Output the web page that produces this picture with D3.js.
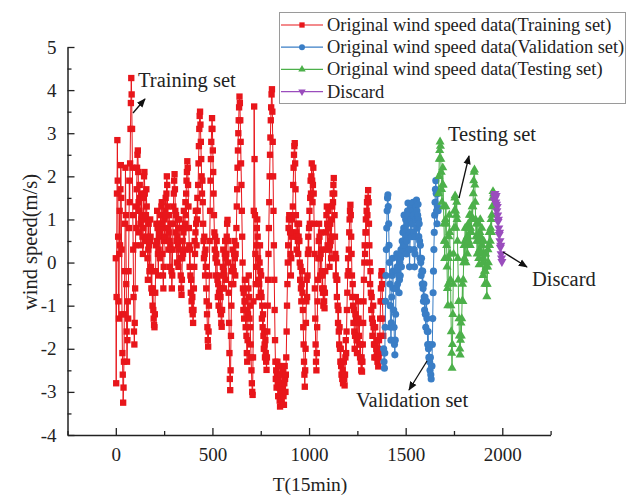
<!DOCTYPE html>
<html><head><meta charset="utf-8">
<script src="https://cdn.jsdelivr.net/npm/d3@7"></script>
<style>body{margin:0;background:#fff} svg{display:block}</style>
</head><body><svg id="chart" width="632" height="496"></svg>
<script>
// Wind speed (m/s), one sample every STEP intervals of 15 min
const STEP = 2;
const trainingStart = 0;
const trainingSpeed = [
  0.1, -2.8, -0.8, 1.6, 2.84, 1.9, 0.6, -0.9, -1.3, 0.2, 1.2, 0.4, 1.7, 2.26, 1.5, 0.3, -1.2, -2.1, -2.6, -3.25, -2.9, -2.3, -1.2, -0.2, 0.9,
  2.2, 1.1, -0.5, -1.6, -2.3, -1.8, -0.9, -1.3, -0.2, 0.8, 1.9, 1.4, 2.3, 3.1, 3.7, 4.28, 3.9, 3.1, 2.2, 1.1, 0.3, -0.8, -1.6, -1.9, -1.4,
  -0.6, 0.4, 1.3, 0.8, 1.7, 2.2, 2.5, 2.6, 2.1, 1.4, 0.7, 1.2, 1.8, 1.5, 0.9, 0.4, 1.0, 1.6, 1.1, 0.6, 0.2, 0.8, 1.5, 2.0, 2.1,
  1.6, 1.0, 0.5, 1.1, 1.7, 1.3, 0.6, 0.1, -0.4, 0.3, 0.9, 0.4, -0.2, 0.5, 1.0, 0.6, -0.1, -0.6, -0.2, -0.7, -1.0, -0.6, -1.1, -1.3, -1.45,
  -1.5, -1.2, -0.7, -0.2, 0.4, 0.9, 0.5, 1.2, 0.8, 0.2, -0.3, 0.3, 0.9, 0.6, 0.1, 0.7, 1.1, 0.8, 1.3, 1.4, 0.9, 0.2, -0.3, -0.6, -0.1,
  0.5, 1.0, 0.6, 1.2, 1.5, 1.1, 1.6, 2.0, 1.8, 1.3, 0.8, 0.3, 0.7, 1.1, 0.5, -0.1, 0.4, 0.9, 0.3, -0.2, -0.6, -0.3, 0.3, 0.9, 1.3,
  1.6, 1.9, 2.05, 1.7, 1.2, 0.7, 1.1, 0.5, 0.0, 0.6, 1.0, 0.4, -0.1, 0.3, 0.8, 1.0, 0.5, 0.1, -0.3, -0.6, -0.75, -0.4, 0.1, 0.5, 0.2,
  0.7, 1.2, 0.8, 0.3, 0.9, 1.4, 1.1, 1.6, 1.9, 2.1, 2.35, 2.2, 1.8, 1.3, 0.8, 0.4, -0.1, 0.3, -0.3, -0.7, -0.4, -0.9, -1.1, -0.8, -1.2,
  -1.4, -1.1, -0.6, -0.1, 0.5, 0.2, 0.7, 1.2, 0.9, 0.4, 1.0, 1.5, 1.2, 1.8, 2.3, 2.7, 3.1, 3.4, 3.5, 3.2, 2.8, 2.4, 2.0, 1.6, 1.9,
  1.4, 0.9, 0.5, 0.1, 0.6, 0.2, -0.3, 0.3, -0.1, -0.6, -0.9, -1.2, -1.5, -1.8, -1.95, -1.6, -1.0, -0.3, 0.5, 1.2, 1.9, 2.4, 2.8, 3.1, 3.35,
  3.1, 2.6, 2.1, 1.6, 1.1, 0.7, 0.3, 0.6, 0.1, -0.3, 0.2, 0.5, 0.0, -0.4, -0.8, -0.5, -1.0, -0.7, -0.3, -0.6, -1.1, -0.8, -1.2, -1.4, -1.49,
  -1.1, -0.6, -0.1, 0.3, -0.2, -0.6, -0.3, 0.2, 0.5, 0.1, -0.4, 0.2, 0.6, 0.9, 0.99, 0.5, 0.0, -0.7, -1.4, -2.1, -2.7, -2.96, -2.5, -1.7, -1.0,
  -0.5, -0.2, 0.3, -0.1, -0.5, -0.2, 0.2, 0.5, 0.1, -0.3, 0.2, 0.4, 0.8, 1.3, 1.7, 2.2, 2.6, 3.0, 3.3, 3.6, 3.85, 3.7, 3.3, 2.8, 2.3,
  1.8, 1.2, 0.6, 0.0, -0.6, -1.1, -0.7, -1.3, -0.9, -0.4, -0.9, -1.5, -1.1, -1.7, -2.1, -2.3, -1.8, -1.2, -0.6, -0.3, -0.8, -1.3, -1.0, -1.5, -1.9,
  -2.2, -2.5, -2.8, -3.0, -3.07, -2.2, -0.9, 1.2, 3.62, 2.4, 1.1, 0.2, -0.5, -0.1, 0.4, 0.8, 1.0, 0.6, 0.1, -0.4, -0.8, -0.5, 0.0, 0.4, -0.2,
  -0.7, -0.3, -0.8, -1.3, -1.0, -1.5, -1.2, -1.7, -2.0, -1.6, -1.9, -2.2, -1.8, -2.1, -2.3, -2.49, -2.2, -1.6, -1.0, -0.4, 0.2, 0.8, 1.4, 2.0, 2.5,
  2.9, 3.3, 3.6, 3.9, 4.02, 3.5, 2.8, 2.0, 1.2, 0.4, -0.4, -1.1, -1.8, -2.3, -2.7, -2.5, -2.9, -2.6, -2.3, -2.8, -3.1, -2.7, -2.4, -2.9, -3.2,
  -3.34, -3.0, -2.6, -2.9, -3.2, -3.3, -2.9, -2.5, -2.8, -3.1, -3.3, -2.8, -2.4, -2.7, -3.0, -2.6, -2.2, -1.6, -1.0, -0.5, 0.0, 0.4, 0.8, 1.0, 1.1,
  1.1, 0.7, 0.2, -0.3, 0.1, 0.6, 1.0, 0.7, 1.3, 1.8, 2.2, 2.5, 2.7, 2.77, 2.3, 1.7, 1.1, 0.7, 0.3, 0.6, 0.9, 0.5, 0.2, 0.6, 0.9,
  0.5, 0.0, -0.4, -0.1, -0.6, -0.9, -0.5, -0.2, -0.7, -1.1, -1.5, -1.9, -2.3, -2.6, -2.88, -2.5, -2.0, -1.4, -0.9, -0.4, -0.8, -0.3, 0.2, 0.6, 0.3,
  0.8, 1.2, 0.9, 1.5, 1.9, 1.6, 2.0, 2.3, 1.9, 1.4, 1.8, 2.2, 1.6, 0.9, 0.2, -0.6, -1.3, -1.9, -2.3, -2.5, -2.1, -1.5, -0.9, -0.4, 0.1,
  0.5, 0.9, 0.6, 0.1, -0.3, 0.2, 0.7, 0.3, -0.2, -0.6, -0.3, -0.7, -1.0, -0.6, -0.9, -1.06, -0.7, -0.2, 0.3, 0.7, 1.1, 1.3, 0.9, 0.4, 0.8,
  1.2, 0.8, 0.3, -0.1, 0.4, 0.9, 0.5, 0.1, 0.6, 1.0, 1.3, 1.6, 1.4, 1.8, 1.96, 1.6, 1.1, 0.6, 0.2, -0.3, 0.1, -0.4, -0.8, -0.4, -1.0,
  -1.4, -1.1, -1.6, -1.9, -1.5, -2.0, -2.3, -2.0, -2.4, -2.6, -2.3, -2.7, -2.5, -2.8, -2.6, -2.3, -2.7, -2.85, -2.6, -2.2, -1.8, -2.1, -1.6, -1.1, -0.7,
  -0.3, 0.1, -0.2, 0.3, 0.7, 1.0, 1.2, 1.34, 1.1, 0.6, 0.2, -0.3, -0.8, -0.5, -1.0, -1.4, -1.1, -1.6, -2.0, -1.7, -1.2, -0.8, -1.3, -1.8, -2.1,
  -1.8, -1.4, -0.9, -1.3, -1.7, -1.4, -1.9, -2.2, -1.9, -2.3, -2.5, -2.2, -2.53, -2.3, -1.9, -1.4, -0.9, -0.4, 0.0, 0.4, 0.2, 0.7, 1.0, 0.7, 1.2,
  1.4, 1.1, 1.5, 1.68, 1.4, 0.9, 0.4, 0.0, -0.5, -0.2, -0.7, -1.1, -0.8, -1.3, -1.7, -1.4, -1.0, -1.5, -1.9, -2.2, -1.9, -1.5, -1.9, -2.2, -2.0,
  -1.8, -2.1, -2.3, -2.0, -2.41, -2.2, -1.8, -2.1, -1.7, -1.3, -0.9, -0.6, -0.3, -0.2, -0.5, -0.9, -1.3, -1.7
];
const validationStart = 1386;
const validationSpeed = [
  -2.0, -2.3, -2.45, -2.1, -1.5, -0.9, -0.3, 0.3, 0.8, 1.2, 1.5, 1.57, 1.3, 0.9, 0.4, 0.0, -0.5, -1.0, -1.5, -1.8, -1.4, -0.8, -0.3, 0.1, -0.2,
  -0.6, -1.1, -1.5, -1.9, -2.14, -1.8, -1.2, -0.6, -0.2, 0.2, -0.1, -0.5, -0.2, 0.1, -0.3, -0.7, -0.4, 0.0, -0.3, 0.1, 0.3, -0.1, 0.2, 0.5, 0.3,
  0.7, 0.4, 0.8, 1.1, 0.8, 0.4, 0.7, 1.0, 0.6, 0.2, 0.5, 0.9, 1.2, 1.38, 1.1, 0.7, 0.3, -0.1, 0.3, 0.7, 1.0, 1.3, 1.0, 0.6, 0.9,
  1.2, 1.4, 1.1, 0.7, 0.3, -0.1, 0.2, 0.6, 1.0, 1.3, 1.45, 1.2, 0.8, 1.1, 1.35, 1.0, 0.6, 0.9, 0.5, 0.1, 0.4, 0.0, -0.3, 0.1, -0.2,
  -0.5, -0.2, -0.6, -0.9, -0.5, -0.8, -1.1, -0.8, -1.2, -1.5, -1.2, -0.9, -1.3, -1.6, -1.9, -1.6, -2.0, -2.2, -1.9, -2.3, -2.5, -2.2, -2.6, -2.7, -2.4,
  -2.4, -1.9, -1.3, -0.7, -0.2, 0.3, 0.7, 1.1, 1.4, 1.7, 1.9, 1.6, 1.2, 0.9, 1.3, 1.6, 1.2
];
const testingStart = 1670;
const testingSpeed = [
  1.6, 2.0, 2.4, 2.6, 2.8, 2.7, 2.4, 2.1, 1.7, 1.4, 1.8, 2.2, 1.8, 1.3, 0.9, 0.5, 0.1, 0.5, 1.0, 1.3, 0.9, 0.4, -0.1, -0.6, -1.0,
  -0.5, 0.1, 0.6, 1.1, 0.7, 0.2, -0.4, -1.0, -1.6, -2.1, -2.45, -1.9, -1.2, -0.5, 0.2, 0.8, 1.2, 1.5, 1.55, 1.2, 0.8, 1.1, 1.4, 1.0, 0.5,
  0.1, -0.4, -0.9, -1.3, -1.7, -2.0, -2.14, -1.8, -1.4, -1.7, -1.3, -0.9, -0.5, -0.9, -0.4, 0.0, 0.4, 0.1, 0.5, 0.8, 0.4, 0.0, 0.4, 0.8, 0.6,
  0.2, 0.6, 0.9, 0.5, 0.8, 1.1, 0.8, 0.4, 0.8, 1.1, 0.7, 1.0, 1.3, 1.0, 1.3, 1.6, 1.9, 2.1, 2.15, 1.8, 1.4, 1.0, 0.6, 0.9, 0.5,
  0.2, 0.6, 0.9, 0.5, 0.1, -0.05, 0.3, 0.7, 1.0, 0.6, 0.2, 0.5, 0.8, 0.4, 0.0, -0.3, 0.1, 0.5, 0.2, -0.2, -0.5, -0.2, 0.2, -0.1, -0.5,
  -0.79, -0.5, -0.1, 0.3, 0.0, 0.4, 0.7, 0.4, 0.7, 0.5, 0.8, 1.0, 0.7, 1.1, 1.3, 1.5, 1.65, 1.5, 1.6
];
const discardStart = 1958;
const discardSpeed = [
  1.45, 1.55, 1.6, 1.5, 1.4, 1.55, 1.35, 1.2, 1.3, 1.1, 0.95, 1.0, 0.8, 0.65, 0.7, 0.5, 0.35, 0.4, 0.2, 0.1, 0.02
];

const xTicks = [0, 500, 1000, 1500, 2000];
const yTicks = [-4, -3, -2, -1, 0, 1, 2, 3, 4, 5];
const legendLabels = [
  "Original wind speed data(Training set)",
  "Original wind speed data(Validation set)",
  "Original wind speed data(Testing set)",
  "Discard"
];

const FONT = "'Liberation Serif', 'Times New Roman', serif";
const INK = "#222";
const svg = d3.select("#chart");

const x = d3.scaleLinear().domain([-250, 2250]).range([67.5, 550.6]);
const y = d3.scaleLinear().domain([-4, 5]).range([435, 47]);

const toPoints = (start, vals) => vals.map((v, i) => ({t: start + i * STEP, v}));

const series = [
  {name: legendLabels[0], color: "#e8161b", symbol: d3.symbolSquare, size: 40, rotate: 0, data: toPoints(trainingStart, trainingSpeed)},
  {name: legendLabels[1], color: "#3a7ec6", symbol: d3.symbolCircle, size: 40, rotate: 0, data: toPoints(validationStart, validationSpeed)},
  {name: legendLabels[2], color: "#4cb04a", symbol: d3.symbolTriangle, size: 36, rotate: 0, data: toPoints(testingStart, testingSpeed)},
  {name: legendLabels[3], color: "#9a4dbd", symbol: d3.symbolTriangle, size: 36, rotate: 180, data: toPoints(discardStart, discardSpeed)}
];

// Axes: ticks point inward, minor ticks halfway between labels
const xMinor = d3.range(-250, 2251, 250).filter(v => !xTicks.includes(v));
const yMinor = d3.range(-4, 5.01, 0.5).filter(v => !yTicks.includes(v));
const plain = d => String(d);

const gx = svg.append("g").attr("transform", `translate(0,${y(-4)})`);
gx.call(d3.axisBottom(x).tickValues(xTicks).tickFormat(plain).tickSizeInner(-7).tickSizeOuter(0).tickPadding(13));
const gxm = svg.append("g").attr("transform", `translate(0,${y(-4)})`);
gxm.call(d3.axisBottom(x).tickValues(xMinor).tickSizeInner(-4).tickSizeOuter(0).tickFormat(""));
gxm.select(".domain").remove();

const gy = svg.append("g").attr("transform", `translate(${x(-250)},0)`);
gy.call(d3.axisLeft(y).tickValues(yTicks).tickFormat(plain).tickSizeInner(-7).tickSizeOuter(0).tickPadding(11));
const gym = svg.append("g").attr("transform", `translate(${x(-250)},0)`);
gym.call(d3.axisLeft(y).tickValues(yMinor).tickSizeInner(-4).tickSizeOuter(0).tickFormat(""));
gym.select(".domain").remove();

svg.selectAll(".domain").attr("stroke", INK).attr("stroke-width", 1.5);
svg.selectAll(".tick line").attr("stroke", INK).attr("stroke-width", 1.3);
svg.selectAll(".tick text").attr("font-family", FONT).attr("font-size", 19).attr("fill", INK);

// Axis titles
svg.append("text").attr("x", 310).attr("y", 491).attr("text-anchor", "middle")
  .attr("font-family", FONT).attr("font-size", 19.5).attr("fill", INK).text("T(15min)");
svg.append("text").attr("transform", `translate(37,242) rotate(-90)`).attr("text-anchor", "middle")
  .attr("font-family", FONT).attr("font-size", 20.5).attr("fill", INK).text("wind speed(m/s)");

// Series: thin line plus a marker on every sample
const line = d3.line().x(d => x(d.t)).y(d => y(d.v));
series.forEach(s => {
  const g = svg.append("g");
  g.append("path").datum(s.data).attr("d", line).attr("fill", "none")
    .attr("stroke", s.color).attr("stroke-width", 1);
  g.selectAll("path.m").data(s.data).join("path").attr("class", "m")
    .attr("d", d3.symbol().type(s.symbol).size(s.size))
    .attr("transform", d => `translate(${x(d.t)},${y(d.v)}) rotate(${s.rotate})`)
    .attr("fill", s.color);
});

// Annotations with arrows
svg.append("defs").append("marker").attr("id", "ah").attr("viewBox", "0 0 10 10")
  .attr("refX", 9).attr("refY", 5).attr("markerWidth", 7).attr("markerHeight", 7)
  .attr("orient", "auto")
  .append("path").attr("d", "M0,1 L10,5 L0,9 z").attr("fill", "#111");

const notes = [
  {text: "Training set", tx: 138, ty: 87, x1: 133, y1: 113, x2: 145, y2: 99},
  {text: "Testing set", tx: 448, ty: 141, x1: 459, y1: 198, x2: 469, y2: 156},
  {text: "Validation set", tx: 356, ty: 407, x1: 427, y1: 361, x2: 409, y2: 390},
  {text: "Discard", tx: 532, ty: 286, x1: 503, y1: 252, x2: 527, y2: 267}
];
notes.forEach(n => {
  svg.append("line").attr("x1", n.x1).attr("y1", n.y1).attr("x2", n.x2).attr("y2", n.y2)
    .attr("stroke", "#111").attr("stroke-width", 1.3).attr("marker-end", "url(#ah)");
  svg.append("text").attr("x", n.tx).attr("y", n.ty).attr("font-family", FONT)
    .attr("font-size", 20.5).attr("fill", INK).text(n.text);
});

// Legend
const lg = svg.append("g");
lg.append("rect").attr("x", 279.5).attr("y", 12.5).attr("width", 346).attr("height", 91)
  .attr("fill", "#fff").attr("stroke", "#9a9a9a").attr("stroke-width", 1);
series.forEach((s, i) => {
  const yy = 25 + i * 22.2;
  lg.append("line").attr("x1", 281).attr("x2", 323).attr("y1", yy).attr("y2", yy)
    .attr("stroke", s.color).attr("stroke-width", 1.2);
  lg.append("path").attr("d", d3.symbol().type(s.symbol).size(s.size - 12))
    .attr("transform", `translate(302,${yy}) rotate(${s.rotate})`).attr("fill", s.color);
  lg.append("text").attr("x", 327).attr("y", yy + 6).attr("font-family", FONT)
    .attr("font-size", 18.4).attr("fill", INK).text(s.name);
});
</script></body></html>
